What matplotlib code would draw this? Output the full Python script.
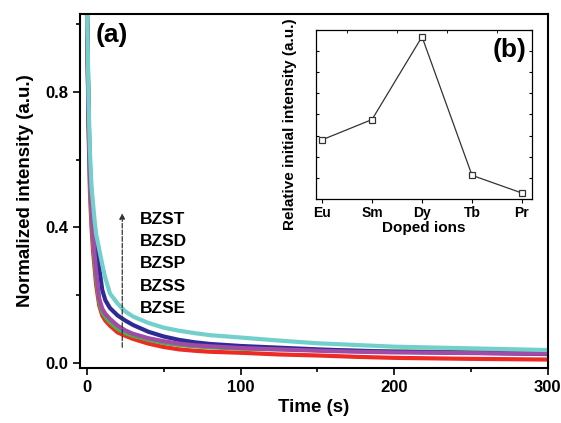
import matplotlib
matplotlib.use("Agg")
import matplotlib.pyplot as plt
from matplotlib.ticker import MultipleLocator

plt.rcParams["font.family"] = ["Liberation Sans", "DejaVu Sans"]
plt.rcParams["font.weight"] = "bold"

# decay curves
time = [0, 0.5, 1, 1.5, 2, 3, 4, 5, 6, 8, 10, 12, 15, 20, 25, 30,
        40, 50, 60, 70, 80, 100, 125, 150, 175, 200, 250, 300]
bzst = [1.05, 0.95, 0.80, 0.70, 0.62, 0.52, 0.47, 0.42, 0.38, 0.335, 0.29, 0.25, 0.205, 0.175, 0.152, 0.137,
        0.118, 0.104, 0.095, 0.088, 0.082, 0.075, 0.066, 0.058, 0.053, 0.048, 0.043, 0.038]
bzsd = [1.05, 0.92, 0.76, 0.66, 0.58, 0.49, 0.43, 0.38, 0.34, 0.28, 0.215, 0.185, 0.162, 0.14, 0.125, 0.112,
        0.092, 0.078, 0.068, 0.061, 0.056, 0.05, 0.045, 0.04, 0.036, 0.033, 0.03, 0.026]
bzsp = [1.05, 0.90, 0.74, 0.63, 0.55, 0.45, 0.38, 0.32, 0.27, 0.19, 0.16, 0.145, 0.13, 0.11, 0.096, 0.086,
        0.073, 0.064, 0.057, 0.052, 0.049, 0.044, 0.04, 0.036, 0.033, 0.031, 0.029, 0.027]
bzss = [1.05, 0.90, 0.73, 0.62, 0.53, 0.43, 0.36, 0.30, 0.25, 0.18, 0.15, 0.135, 0.12, 0.10, 0.088, 0.08,
        0.068, 0.059, 0.053, 0.049, 0.046, 0.042, 0.04, 0.038, 0.036, 0.034, 0.033, 0.031]
bzse = [1.05, 0.88, 0.71, 0.60, 0.50, 0.40, 0.33, 0.28, 0.23, 0.17, 0.14, 0.125, 0.11, 0.09, 0.08, 0.071,
        0.057, 0.047, 0.04, 0.036, 0.033, 0.03, 0.025, 0.022, 0.018, 0.015, 0.012, 0.01]

labels = ["BZST", "BZSD", "BZSP", "BZSS", "BZSE"]

# inset data
ions = ["Eu", "Sm", "Dy", "Tb", "Pr"]
rel_init = [0.35, 0.47, 0.96, 0.14, 0.035]

fig = plt.figure(figsize=(5.61, 4.23), dpi=100)
ax = fig.add_axes([0.1426, 0.13, 0.834, 0.837])

ax.plot(time, bzse, color="#ee2a24", lw=3)
ax.plot(time, bzss, color="#4cb04a", lw=3)
ax.plot(time, bzsd, color="#2e2b96", lw=3)
ax.plot(time, bzsp, color="#a24aa8", lw=3)
ax.plot(time, bzst, color="#72cfcc", lw=3)

ax.set_xlim(-4.5, 300)
ax.set_ylim(-0.015, 1.03)
ax.xaxis.set_major_locator(MultipleLocator(100))
ax.xaxis.set_minor_locator(MultipleLocator(50))
ax.yaxis.set_major_locator(MultipleLocator(0.4))
ax.yaxis.set_minor_locator(MultipleLocator(0.2))
ax.tick_params(which="major", direction="out", length=5, width=1.2, labelsize=12)
ax.tick_params(which="minor", direction="out", length=3, width=1.2)
for s in ax.spines.values():
    s.set_linewidth(1.5)
ax.set_xlabel("Time (s)", fontsize=13.5, fontweight="bold", labelpad=3)
ax.set_ylabel("Normalized intensity (a.u.)", fontsize=13.5, fontweight="bold", labelpad=8)

ax.annotate("", xy=(23, 0.45), xytext=(23, 0.038),
            arrowprops=dict(arrowstyle="-|>", color="#333333", lw=0.9,
                            linestyle="--", mutation_scale=8))
ys = [0.422, 0.357, 0.292, 0.227, 0.162]
for lab, y in zip(labels, ys):
    ax.text(34.5, y, lab, fontsize=12.5, fontweight="bold", ha="left", va="center")
ax.text(5.5, 0.968, "(a)", fontsize=19, fontweight="bold", ha="left", va="center")

# inset
ins = fig.add_axes([0.5633, 0.5296, 0.385, 0.3995])
xs = list(range(len(ions)))
ins.plot(xs, rel_init, color="#333333", lw=0.9, marker="s", ms=5,
         mfc="white", mec="#333333", mew=0.9)
ins.set_xlim(-0.12, 4.2)
ins.set_ylim(0, 1)
ins.set_xticks(xs)
ins.set_xticklabels(ions)
ins.xaxis.set_minor_locator(MultipleLocator(0.5))
ins.yaxis.set_major_locator(MultipleLocator(0.125))
ins.tick_params(axis="x", which="major", direction="out", length=3, labelsize=10, pad=2)
ins.tick_params(axis="x", which="minor", direction="in", length=2, bottom=False, top=True)
ins.tick_params(axis="y", which="both", direction="in", length=2, left=True, right=True,
                labelleft=False)
for s in ins.spines.values():
    s.set_linewidth(0.9)
ins.set_xlabel("Doped ions", fontsize=11, fontweight="bold", labelpad=1)
ins.set_ylabel("Relative initial intensity (a.u.)", fontsize=11, fontweight="bold")
ins.yaxis.set_label_coords(-0.09, 0.44)
ins.text(0.82, 0.88, "(b)", transform=ins.transAxes, fontsize=19, fontweight="bold",
         ha="left", va="center")

fig.savefig("out.png", dpi=100)
